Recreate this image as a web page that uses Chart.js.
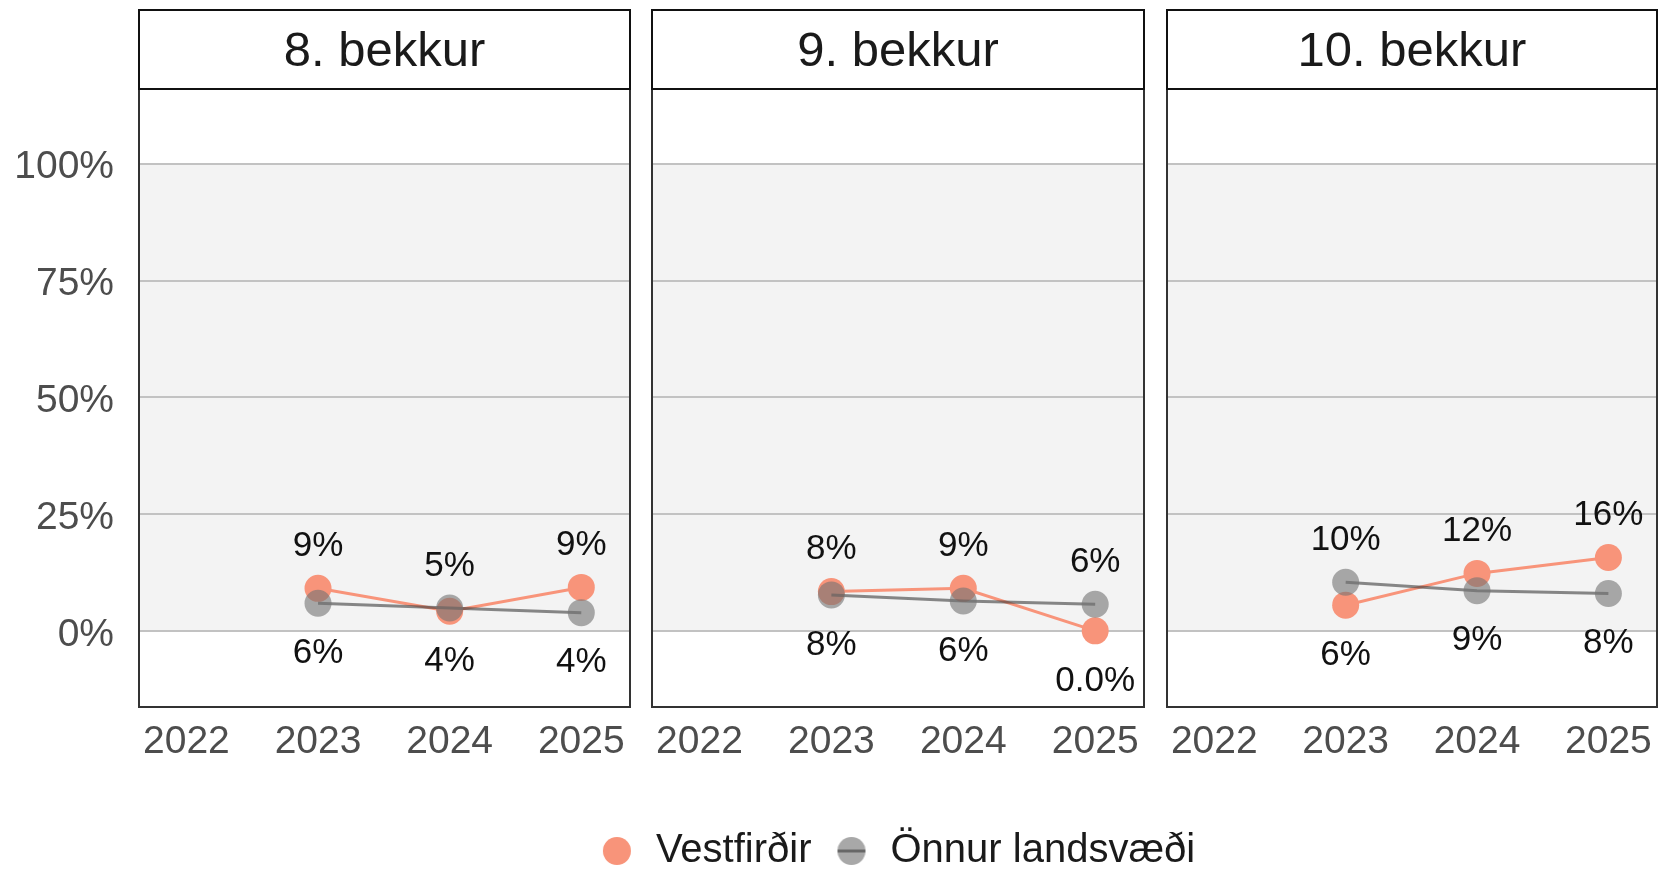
<!DOCTYPE html>
<html>
<head>
<meta charset="utf-8">
<script src="https://cdn.jsdelivr.net/npm/chart.js@4.4.1/dist/chart.umd.min.js"></script>
<style>
  body { margin: 0; background: #fff; width: 1660px; height: 871px; overflow: hidden; position: relative; }
  canvas { position: absolute; top: 0; }
</style>
</head>
<body>
<canvas id="p8" width="640" height="800" style="left:0"></canvas>
<canvas id="p9" width="512" height="800" style="left:642px"></canvas>
<canvas id="p10" width="503" height="800" style="left:1157px"></canvas>
<canvas id="legend" width="1521" height="160" style="left:136px;top:810px"></canvas>
<script>
const years = [2022, 2023, 2024, 2025];
const yTicks = [0, 25, 50, 75, 100];
const panelTitles = ['8. bekkur', '9. bekkur', '10. bekkur'];
const seriesNames = ['Vestfirðir', 'Önnur landsvæði'];

// share in percent per year, no data for 2022
const vest8 = [null, 9.1, 4.2, 9.3];
const onnur8 = [null, 5.9, 4.9, 3.9];
const vest9 = [null, 8.4, 9.1, 0];
const onnur9 = [null, 7.7, 6.4, 5.7];
const vest10 = [null, 5.5, 12.3, 15.7];
const onnur10 = [null, 10.4, 8.6, 8.0];

const orange = '#F8947A';
const grayPoint = 'rgba(115, 115, 115, 0.6)';
const grayLine = 'rgba(60, 60, 60, 0.6)';

Chart.defaults.font.family = "'Liberation Sans', Arial, sans-serif";

// gray band between 0% and 100%, plus the strip on top and the panel frame
const facetPlugin = {
  id: 'facet',
  beforeDraw(chart) {
    const { ctx, chartArea: a, scales } = chart;
    const top = scales.y.getPixelForValue(100);
    const bottom = scales.y.getPixelForValue(0);
    ctx.save();
    ctx.fillStyle = '#F3F3F3';
    ctx.fillRect(a.left, top, a.right - a.left, bottom - top);
    ctx.restore();
  },
  afterDraw(chart, args, opts) {
    const { ctx, chartArea: a } = chart;
    ctx.save();
    ctx.lineWidth = 2;
    ctx.strokeStyle = '#333';
    ctx.strokeRect(a.left, a.top, a.right - a.left, a.bottom - a.top);
    // strip
    ctx.fillStyle = '#fff';
    ctx.fillRect(a.left, 10, a.right - a.left, a.top - 10);
    ctx.strokeStyle = '#111';
    ctx.strokeRect(a.left, 10, a.right - a.left, a.top - 10);
    ctx.fillStyle = '#1a1a1a';
    ctx.font = "49px 'Liberation Sans', Arial, sans-serif";
    ctx.textAlign = 'center';
    ctx.textBaseline = 'middle';
    ctx.fillText(opts.text, (a.left + a.right) / 2, (10 + a.top) / 2 + 3);
    ctx.restore();
  }
};

// value labels: higher point gets its label above, lower one below
const valueLabels = {
  id: 'valueLabels',
  afterDatasetsDraw(chart) {
    const { ctx, scales } = chart;
    const d0 = chart.data.datasets[0].data;
    const d1 = chart.data.datasets[1].data;
    const fmt = (v) => v === 0 ? '0.0%' : Math.round(v) + '%';
    ctx.save();
    ctx.fillStyle = '#111';
    ctx.font = "35px 'Liberation Sans', Arial, sans-serif";
    ctx.textAlign = 'center';
    ctx.textBaseline = 'middle';
    for (let i = 0; i < d0.length; i++) {
      const a = d0[i].y, b = d1[i].y;
      if (a == null || b == null) continue;
      const hi = Math.max(a, b), lo = Math.min(a, b);
      const x = scales.x.getPixelForValue(d0[i].x);
      ctx.fillText(fmt(hi), x, scales.y.getPixelForValue(hi) - 42);
      ctx.fillText(fmt(lo), x, scales.y.getPixelForValue(lo) + 50);
    }
    ctx.restore();
  }
};

function toPoints(values) {
  return years.map((x, i) => ({ x: x, y: values[i] }));
}

function makePanel(id, title, vest, onnur, showY, padLeft, padRight) {
  return new Chart(document.getElementById(id), {
    type: 'line',
    plugins: [facetPlugin, valueLabels],
    data: {
      datasets: [
        {
          label: seriesNames[0],
          data: toPoints(vest),
          borderColor: orange,
          backgroundColor: orange,
          pointBackgroundColor: orange,
          pointBorderWidth: 0,
          pointRadius: 13.5,
          borderWidth: 3,
          order: 2,
        },
        {
          label: seriesNames[1],
          data: toPoints(onnur),
          borderColor: grayLine,
          backgroundColor: grayPoint,
          pointBackgroundColor: grayPoint,
          pointBorderWidth: 0,
          pointRadius: 13.5,
          borderWidth: 3,
          order: 1,
        },
      ],
    },
    options: {
      responsive: false,
      animation: false,
      events: [],
      layout: { autoPadding: false, padding: { left: padLeft, right: padRight, top: 89, bottom: 0 } },
      plugins: {
        legend: { display: false },
        tooltip: { enabled: false },
        facet: { text: title },
      },
      scales: {
        x: {
          type: 'linear',
          min: 2021.64,
          max: 2025.37,
          grid: { display: false },
          border: { display: false },
          afterBuildTicks: (s) => { s.ticks = years.map((v) => ({ value: v })); },
          afterFit: (s) => { s.height = 93; s.paddingLeft = 0; s.paddingRight = 0; },
          ticks: {
            font: { size: 39 },
            color: '#4d4d4d',
            padding: 4,
            maxRotation: 0,
            autoSkip: false,
            callback: (v) => String(v),
          },
        },
        y: {
          min: -16.3,
          max: 116,
          border: { display: false },
          grid: { color: '#C2C2C2', lineWidth: 2, drawTicks: false },
          afterBuildTicks: (s) => { s.ticks = yTicks.map((v) => ({ value: v })); },
          afterFit: (s) => { s.width = showY ? 139 : 0; s.paddingTop = 0; s.paddingBottom = 0; },
          ticks: {
            display: showY,
            font: { size: 39 },
            color: '#4d4d4d',
            padding: 25,
            labelOffset: 4,
            callback: (v) => v + '%',
          },
        },
      },
    },
  });
}

makePanel('p8', panelTitles[0], vest8, onnur8, true, 0, 10);
makePanel('p9', panelTitles[1], vest9, onnur9, false, 10, 10);
makePanel('p10', panelTitles[2], vest10, onnur10, false, 10, 3);

// legend keys: point, and point with the line through it for the gray series
function legendKey(fill, line) {
  const c = document.createElement('canvas');
  c.width = 40;
  c.height = 30;
  const g = c.getContext('2d');
  g.fillStyle = fill;
  g.beginPath();
  g.arc(20, 15, 14, 0, Math.PI * 2);
  g.fill();
  if (line) {
    g.strokeStyle = line;
    g.lineWidth = 3;
    g.beginPath();
    g.moveTo(6, 15);
    g.lineTo(34, 15);
    g.stroke();
  }
  return c;
}

// shared legend under the three panels
new Chart(document.getElementById('legend'), {
  type: 'line',
  data: {
    datasets: [
      { label: seriesNames[0], data: [], pointStyle: legendKey(orange, null), borderColor: orange, backgroundColor: orange },
      { label: seriesNames[1], data: [], pointStyle: legendKey('#A8A8A8', 'rgba(60,60,60,0.6)'), borderColor: grayLine, backgroundColor: grayPoint },
    ],
  },
  options: {
    responsive: false,
    animation: false,
    events: [],
    layout: { padding: 0 },
    scales: { x: { display: false }, y: { display: false } },
    plugins: {
      tooltip: { enabled: false },
      legend: {
        display: true,
        position: 'top',
        labels: {
          usePointStyle: true,
          boxWidth: 38,
          boxHeight: 20,
          padding: 21,
          color: '#1a1a1a',
          font: { size: 40 },
        },
      },
    },
  },
});
</script>
</body>
</html>
